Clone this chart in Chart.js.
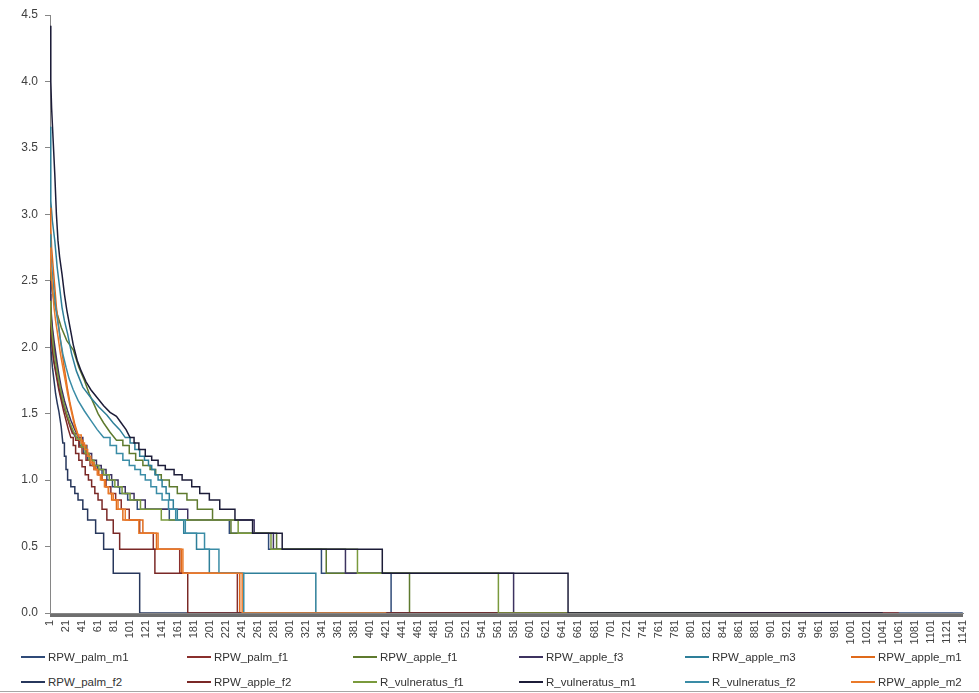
<!DOCTYPE html>
<html>
<head>
<meta charset="utf-8">
<title>Rank abundance</title>
<script src="https://cdn.jsdelivr.net/npm/chart.js@4.4.1/dist/chart.umd.min.js"></script>
<style>
  html, body { margin: 0; padding: 0; background: #fff; }
  #wrap { position: relative; width: 979px; height: 693px; overflow: hidden; font-family: "Liberation Sans", Arial, sans-serif; }
  #rankChart { position: absolute; left: 0; top: 0; }
  .legend-item { position: absolute; height: 20px; line-height: 20px; font-size: 11.5px; color: #333; white-space: nowrap; }
  .legend-item .swatch { display: inline-block; width: 24px; height: 2px; vertical-align: middle; margin-right: 3px; position: relative; top: -1px; }
  #bottom-line { position: absolute; left: 0; width: 979px; top: 691px; border-top: 1px solid #a6a6a6; }
</style>
</head>
<body>
<div id="wrap">
  <canvas id="rankChart" width="979" height="652"></canvas>
  <div id="legend"></div>
  <div id="bottom-line"></div>
</div>
<script>
// x categories run 1..1141, labelled every 20
const categories = Array.from({ length: 1141 }, (_, i) => i + 1);
const xTickLabels = ["1", "21", "41", "61", "81", "101", "121", "141", "161", "181", "201", "221", "241", "261",
  "281", "301", "321", "341", "361", "381", "401", "421", "441", "461", "481", "501", "521", "541", "561", "581",
  "601", "621", "641", "661", "681", "701", "721", "741", "761", "781", "801", "821", "841", "861", "881", "901",
  "921", "941", "961", "981", "1001", "1021", "1041", "1061", "1081", "1101", "1121", "1141"];
const yTicks = [0, 0.5, 1, 1.5, 2, 2.5, 3, 3.5, 4, 4.5];

// each series: [index where value starts, value] (value holds until next entry)
const rpwPalmM1 = [[1, 2.25], [2, 2.1], [4, 2.0], [6, 1.9], [9, 1.8], [12, 1.7], [16, 1.6], [20, 1.52], [24, 1.45],
  [28, 1.38], [33, 1.32], [38, 1.26], [43, 1.2], [48, 1.15], [54, 1.11], [60, 1.08], [66, 1.04], [72, 1.0],
  [79, 0.95], [88, 0.9], [98, 0.85], [110, 0.78], [150, 0.7], [225, 0.6], [274, 0.48], [340, 0.3], [427, 0], [1141, 0]];
const rpwPalmF1 = [[1, 2.4], [2, 2.25], [4, 2.12], [6, 2.0], [9, 1.88], [12, 1.76], [15, 1.66], [18, 1.58], [21, 1.5],
  [25, 1.42], [29, 1.35], [33, 1.3], [37, 1.25], [41, 1.2], [46, 1.15], [51, 1.11], [56, 1.08], [61, 1.04],
  [66, 1.0], [71, 0.95], [77, 0.9], [83, 0.85], [90, 0.78], [100, 0.7], [113, 0.6], [130, 0.48], [163, 0.3], [235, 0], [1061, 0]];
const rpwAppleF1 = [[1, 2.6], [3, 2.45], [6, 2.35], [10, 2.25], [15, 2.15], [22, 2.05], [30, 1.98], [37, 1.85],
  [44, 1.75], [50, 1.65], [56, 1.57], [61, 1.5], [68, 1.43], [76, 1.36], [84, 1.3], [92, 1.26], [100, 1.2],
  [108, 1.15], [117, 1.11], [126, 1.08], [133, 1.04], [140, 1.0], [150, 0.95], [160, 0.9], [172, 0.85],
  [185, 0.78], [204, 0.7], [227, 0.6], [284, 0.48], [346, 0.3], [450, 0], [700, 0]];
const rpwAppleF3 = [[1, 2.5], [2, 2.3], [4, 2.15], [6, 2.05], [9, 1.92], [12, 1.8], [15, 1.7], [19, 1.6], [23, 1.52],
  [27, 1.45], [32, 1.38], [37, 1.32], [42, 1.26], [47, 1.2], [53, 1.15], [59, 1.11], [65, 1.08], [71, 1.04],
  [78, 1.0], [86, 0.95], [95, 0.9], [106, 0.85], [120, 0.78], [173, 0.7], [256, 0.6], [280, 0.48], [370, 0.3], [580, 0], [900, 0]];
const rpwAppleM3 = [[1, 3.66], [2, 3.1], [4, 2.95], [7, 2.8], [10, 2.6], [13, 2.45], [16, 2.3], [19, 2.2], [23, 2.1],
  [28, 1.95], [34, 1.82], [42, 1.7], [52, 1.62], [62, 1.55], [72, 1.49], [80, 1.43], [88, 1.38], [95, 1.32],
  [101, 1.28], [107, 1.23], [113, 1.18], [119, 1.15], [124, 1.11], [128, 1.08], [132, 1.04], [136, 1.0],
  [141, 0.95], [146, 0.9], [150, 0.85], [155, 0.78], [160, 0.7], [168, 0.6], [184, 0.48], [200, 0.3], [333, 0], [800, 0]];
const rpwAppleM1 = [[1, 3.05], [2, 2.9], [3, 2.75], [5, 2.6], [7, 2.45], [9, 2.3], [11, 2.2], [14, 2.05], [17, 1.92],
  [20, 1.8], [23, 1.68], [26, 1.58], [29, 1.5], [32, 1.42], [35, 1.36], [38, 1.3], [42, 1.26], [46, 1.2],
  [50, 1.15], [54, 1.11], [58, 1.08], [62, 1.04], [66, 1.0], [70, 0.95], [74, 0.9], [78, 0.85], [84, 0.78],
  [92, 0.7], [117, 0.6], [134, 0.48], [165, 0.3], [238, 0], [600, 0]];
const rpwPalmF2 = [[1, 2.2], [2, 2.0], [4, 1.85], [6, 1.75], [8, 1.65], [10, 1.58], [12, 1.52], [15, 1.4], [17, 1.28],
  [19, 1.18], [21, 1.08], [23, 1.0], [27, 0.95], [32, 0.9], [36, 0.85], [42, 0.78], [48, 0.7], [58, 0.6],
  [68, 0.48], [80, 0.3], [113, 0], [1000, 0]];
const rpwAppleF2 = [[1, 2.3], [2, 2.12], [4, 1.98], [6, 1.88], [9, 1.78], [12, 1.68], [15, 1.6], [18, 1.52], [21, 1.45],
  [24, 1.38], [27, 1.32], [30, 1.26], [33, 1.2], [37, 1.15], [41, 1.1], [45, 1.04], [49, 1.0], [53, 0.95],
  [57, 0.9], [61, 0.85], [66, 0.78], [72, 0.7], [80, 0.6], [88, 0.48], [132, 0.3], [173, 0], [950, 0]];
const rVulneratusF1 = [[1, 2.35], [2, 2.2], [4, 2.08], [6, 1.96], [9, 1.85], [12, 1.75], [15, 1.66], [18, 1.58],
  [22, 1.5], [26, 1.43], [30, 1.37], [35, 1.31], [40, 1.25], [45, 1.2], [50, 1.15], [56, 1.11], [62, 1.08],
  [68, 1.04], [75, 1.0], [82, 0.95], [91, 0.9], [101, 0.85], [114, 0.78], [140, 0.7], [236, 0.6], [277, 0.48],
  [385, 0.3], [561, 0], [850, 0]];
const rVulneratusM1 = [[1, 4.42], [2, 4.0], [3, 3.8], [5, 3.55], [7, 3.3], [9, 3.0], [11, 2.8], [13, 2.68], [16, 2.55],
  [19, 2.4], [22, 2.28], [26, 2.15], [30, 2.02], [35, 1.9], [40, 1.82], [46, 1.74], [52, 1.68], [60, 1.62],
  [68, 1.56], [76, 1.51], [84, 1.48], [90, 1.43], [96, 1.38], [101, 1.32], [106, 1.28], [112, 1.23], [120, 1.18],
  [128, 1.15], [136, 1.11], [145, 1.08], [156, 1.04], [166, 1.0], [178, 0.95], [188, 0.9], [200, 0.85],
  [213, 0.78], [232, 0.7], [254, 0.6], [291, 0.48], [416, 0.3], [648, 0], [1041, 0]];
const rVulneratusF2 = [[1, 2.85], [2, 2.7], [4, 2.55], [6, 2.42], [8, 2.3], [11, 2.18], [14, 2.06], [17, 1.95],
  [21, 1.85], [25, 1.76], [30, 1.68], [36, 1.6], [44, 1.52], [52, 1.45], [60, 1.38], [68, 1.32], [76, 1.26],
  [84, 1.2], [92, 1.15], [100, 1.11], [107, 1.08], [114, 1.04], [120, 1.0], [127, 0.95], [134, 0.9], [141, 0.85],
  [149, 0.78], [158, 0.7], [170, 0.6], [194, 0.48], [212, 0.3], [243, 0], [420, 0]];
const rpwAppleM2 = [[1, 2.75], [2, 2.6], [4, 2.45], [6, 2.3], [8, 2.2], [11, 2.08], [14, 1.95], [17, 1.85], [20, 1.75],
  [23, 1.65], [26, 1.56], [29, 1.48], [32, 1.4], [36, 1.34], [40, 1.28], [44, 1.23], [48, 1.18], [52, 1.13],
  [56, 1.08], [60, 1.04], [64, 1.0], [69, 0.95], [74, 0.9], [80, 0.85], [86, 0.78], [95, 0.7], [112, 0.6],
  [136, 0.48], [167, 0.3], [241, 0], [421, 0]];

const seriesNames = ["RPW_palm_m1", "RPW_palm_f1", "RPW_apple_f1", "RPW_apple_f3", "RPW_apple_m3", "RPW_apple_m1",
  "RPW_palm_f2", "RPW_apple_f2", "R_vulneratus_f1", "R_vulneratus_m1", "R_vulneratus_f2", "RPW_apple_m2"];
const seriesData = [rpwPalmM1, rpwPalmF1, rpwAppleF1, rpwAppleF3, rpwAppleM3, rpwAppleM1,
  rpwPalmF2, rpwAppleF2, rVulneratusF1, rVulneratusM1, rVulneratusF2, rpwAppleM2];
const seriesColors = ["#2f4a78", "#8a2f2c", "#5e7a2e", "#3d3360", "#2e7f99", "#e06a1a",
  "#27375c", "#7a2826", "#7a9a3c", "#1c1c38", "#3a8ca6", "#ea7a2a"];

// high values change every index (drawn as a sloping line),
// low values come in runs: hold the value to the next run, then drop
const STEP_BELOW = 1.35;
function toPoints(pairs) {
  const pts = [];
  pairs.forEach((p, k) => {
    pts.push({ x: p[0], y: p[1] });
    const next = pairs[k + 1];
    if (next && p[1] <= STEP_BELOW && next[1] !== p[1]) {
      pts.push({ x: next[0], y: p[1] });
    }
  });
  return pts;
}

const datasets = seriesData.map((pairs, i) => ({
  label: seriesNames[i],
  data: toPoints(pairs),
  borderColor: seriesColors[i],
  backgroundColor: seriesColors[i],
  borderWidth: 1.5,
  pointRadius: 0,
  tension: 0,
  fill: false,
  order: seriesData.length - i, // later series drawn on top, like the original
}));

const ctx = document.getElementById("rankChart").getContext("2d");
new Chart(ctx, {
  type: "line",
  data: { datasets: datasets },
  options: {
    responsive: false,
    animation: false,
    layout: { padding: { top: 15, right: 14, left: 0, bottom: 0 } },
    plugins: { legend: { display: false }, tooltip: { enabled: false } },
    scales: {
      x: {
        type: "linear",
        min: 1,
        max: 1142,
        afterBuildTicks: (axis) => {
          axis.ticks = categories.map((v) => ({ value: v }));
        },
        afterFit: (axis) => {
          axis.height = 39;
        },
        border: { color: "#868686", width: 1 },
        grid: { drawOnChartArea: false, drawTicks: true, tickLength: 4, color: "#6e6e6e" },
        ticks: {
          autoSkip: false,
          minRotation: 90,
          maxRotation: 90,
          padding: 3,
          color: "#404040",
          font: { family: "Liberation Sans", size: 11 },
          callback: (value) => (xTickLabels.includes(String(value)) ? String(value) : ""),
        },
      },
      y: {
        min: 0,
        max: 4.5,
        afterBuildTicks: (axis) => {
          axis.ticks = yTicks.map((v) => ({ value: v }));
        },
        afterFit: (axis) => {
          axis.width = 50;
        },
        border: { color: "#868686", width: 1 },
        grid: { drawOnChartArea: false, drawTicks: true, tickLength: 5, color: "#868686" },
        ticks: {
          padding: 7,
          color: "#404040",
          font: { family: "Liberation Sans", size: 12 },
          callback: (value) => value.toFixed(1),
        },
      },
    },
  },
});

// legend laid out like the original: 2 rows x 6 columns
const legend = document.getElementById("legend");
seriesNames.forEach((name, i) => {
  const item = document.createElement("div");
  item.className = "legend-item";
  item.style.left = (21 + (i % 6) * 166) + "px";
  item.style.top = (i < 6 ? 647 : 672) + "px";
  item.innerHTML = '<span class="swatch" style="background:' + seriesColors[i] + '"></span>' + name;
  legend.appendChild(item);
});
</script>
</body>
</html>
